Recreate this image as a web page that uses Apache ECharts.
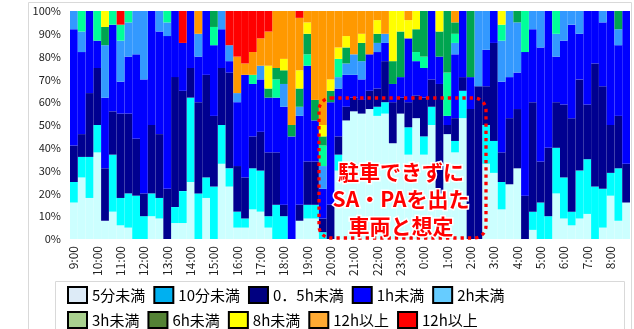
<!DOCTYPE html>
<html>
<head>
<meta charset="utf-8">
<script src="https://cdn.jsdelivr.net/npm/echarts@6/dist/echarts.min.js"></script>
<style>
  html, body { margin: 0; padding: 0; background: #fff; }
  #chart { width: 634px; height: 329px; }
</style>
</head>
<body>
<div id="chart"></div>
<script>
  // 時刻（20分刻み）
  const times = [
    '9:00','9:20','9:40','10:00','10:20','10:40','11:00','11:20','11:40','12:00','12:20','12:40',
    '13:00','13:20','13:40','14:00','14:20','14:40','15:00','15:20','15:40','16:00','16:20','16:40',
    '17:00','17:20','17:40','18:00','18:20','18:40','19:00','19:20','19:40','20:00','20:20','20:40',
    '21:00','21:20','21:40','22:00','22:20','22:40','23:00','23:20','23:40','0:00','0:20','0:40',
    '1:00','1:20','1:40','2:00','2:20','2:40','3:00','3:20','3:40','4:00','4:20','4:40',
    '5:00','5:20','5:40','6:00','6:20','6:40','7:00','7:20','7:40','8:00','8:20','8:40'
  ];

  // 駐車時間別の構成比（%）
  const lt5min = [
    16,27,18,38,8,12,6,5,0,0, 10,9,0,7,7,25,0,18,0,33, 23,5,5,13,12,5,0,0,0,8,
    9,9,0,0,30,52,56,55,57,54, 55,42,55,37,53,37,50,20,46,38, 53,0,0,33,29,13,24,31,0,4,
    0,0,20,9,6,9,11,0,5,19, 8,16
  ];
  const lt10min = [
    9,9,18,12,0,25,12,15,19,10, 10,9,0,7,14,37,20,9,23,17, 8,7,4,18,18,5,15,10,0,0,
    6,6,3,0,7,0,0,0,0,4, 5,0,0,12,0,8,8,0,0,5, 12,0,0,17,14,12,0,0,0,8,
    16,10,20,18,6,21,24,23,17,10, 23,0
  ];
  const lt30min = [
    16,10,28,25,23,19,37,35,25,10, 30,28,22,57,44,13,40,45,31,25, 42,20,18,14,17,28,23,5,0,7,
    19,19,6,15,8,6,6,6,8,8, 18,18,7,11,10,17,12,48,4,10, 6,57,67,17,43,13,29,26,19,48,
    18,30,20,32,41,40,24,54,45,21, 23,17
  ];
  const lt1h = [
    51,36,36,12,31,38,14,25,37,50, 50,45,67,29,21,25,20,28,31,17, 5,28,45,23,23,24,24,43,45,39,
    42,18,13,45,21,14,10,9,16,16, 8,8,9,28,15,13,30,12,4,28, 29,14,0,16,14,31,18,16,63,32,
    50,60,20,28,41,20,41,23,28,50, 31,67
  ];
  const lt2h = [
    8,9,0,0,23,0,18,15,19,30, 0,9,6,0,0,0,10,0,0,8, 7,4,0,0,6,0,0,10,0,4,
    0,0,10,0,5,5,9,8,0,4, 4,0,0,0,0,0,0,0,0,5, 0,0,33,17,0,18,29,22,0,8,
    16,0,10,13,6,10,0,0,5,0, 7,0
  ];
  const lt3h = [
    0,9,0,13,0,6,7,5,0,0, 0,0,5,0,0,0,0,0,8,0, 0,0,0,4,0,0,8,0,0,0,
    5,0,9,0,8,0,0,0,0,0, 0,0,0,0,4,5,0,0,19,4, 0,0,0,0,0,7,0,0,18,0,
    0,0,10,0,0,0,0,0,0,0, 0,0
  ];
  const lt6h = [
    0,0,0,0,8,0,0,0,0,0, 0,0,0,0,0,0,0,0,7,0, 0,0,0,0,0,4,5,6,5,8,
    9,9,4,5,0,7,0,8,0,4, 0,10,20,0,10,20,0,11,27,5, 0,29,0,0,0,0,0,5,0,0,
    0,0,0,0,0,0,0,0,0,0, 8,0
  ];
  const lt8h = [
    0,0,0,0,7,0,0,0,0,0, 0,0,0,0,0,0,0,0,0,0, 0,0,0,0,0,10,0,5,0,8,
    5,0,5,5,5,5,0,4,0,6, 0,22,9,8,8,0,0,9,0,0, 0,0,0,0,0,6,0,0,0,0,
    0,0,0,0,0,0,0,0,0,0, 0,0
  ];
  const ge12hA = [
    0,0,0,0,0,0,0,0,0,0, 0,0,0,0,0,0,10,0,0,0, 0,16,5,10,12,15,25,21,50,23,
    5,39,50,30,16,11,19,10,19,4, 10,0,0,4,0,0,0,0,0,5, 0,0,0,0,0,0,0,0,0,0,
    0,0,0,0,0,0,0,0,0,0, 0,0
  ];
  const ge12hB = [
    0,0,0,0,0,0,6,0,0,0, 0,0,0,0,14,0,0,0,0,0, 15,20,23,18,12,9,0,0,0,3,
    0,0,0,0,0,0,0,0,0,0, 0,0,0,0,0,0,0,0,0,0, 0,0,0,0,0,0,0,0,0,0,
    0,0,0,0,0,0,0,0,0,0, 0,0
  ];

  const seriesNames = ['5分未満', '10分未満', '0．5h未満', '1h未満', '2h未満',
    '3h未満', '6h未満', '8h未満', '12h以上', '12h以上 '];
  const seriesData = [lt5min, lt10min, lt30min, lt1h, lt2h, lt3h, lt6h, lt8h, ge12hA, ge12hB];
  // 棒の色
  const barColors = ['#ccffff', '#00ffff', '#000090', '#0000ff', '#3399ff',
    '#00ff99', '#00a550', '#ffff00', '#ff9900', '#ff0000'];
  // 凡例の色（グラフと違う）
  const legendColors = ['#ddebf7', '#00b0f0', '#000080', '#0000ff', '#66ccff',
    '#a9d08e', '#548235', '#ffff00', '#ffaa33', '#ff0000'];

  const fontJP = '"Noto Sans CJK JP", sans-serif';

  const chart = echarts.init(document.getElementById('chart'));

  const legendItems = (from, to) => seriesNames.slice(from, to).map((name, k) => ({
    name: name,
    icon: 'rect',
    itemStyle: {
      color: legendColors[from + k],
      borderColor: '#000',
      borderWidth: 2
    }
  }));

  const legendBase = {
    left: 62,
    itemWidth: 19,
    itemHeight: 16,
    itemGap: 8,
    selectedMode: false,
    textStyle: {
      fontFamily: fontJP,
      fontSize: 15,
      color: '#000',
      width: 80
    }
  };

  const option = {
    animation: false,
    grid: {
      left: 70,
      right: 4,
      top: 11,
      bottom: 90
    },
    legend: [
      Object.assign({}, legendBase, { top: 281, data: legendItems(0, 5) }),
      Object.assign({}, legendBase, { top: 306, data: legendItems(5, 10) })
    ],
    xAxis: {
      type: 'category',
      data: times,
      axisLine: { show: false },
      axisTick: { show: false },
      axisLabel: {
        interval: 2,
        rotate: 90,
        margin: 7,
        fontFamily: fontJP,
        fontSize: 12,
        color: '#222'
      }
    },
    yAxis: {
      type: 'value',
      min: 0,
      max: 100,
      interval: 10,
      splitLine: { show: false },
      axisLabel: {
        formatter: '{value}%',
        margin: 9,
        fontFamily: fontJP,
        fontSize: 11,
        color: '#222'
      }
    },
    series: seriesNames.map((name, k) => ({
      name: name,
      type: 'bar',
      stack: 'total',
      barCategoryGap: '0%',
      data: seriesData[k],
      itemStyle: { color: barColors[k] }
    })),
    graphic: [
      {
        type: 'rect',
        silent: true,
        shape: { x: 28.5, y: 2.5, width: 603, height: 340 },
        style: { fill: 'none', stroke: '#d9d9d9', lineWidth: 1 }
      },
      {
        type: 'rect',
        silent: true,
        shape: { x: 55.5, y: 281.5, width: 569, height: 60 },
        style: { fill: 'none', stroke: '#d9d9d9', lineWidth: 1 }
      },
      {
        type: 'rect',
        silent: true,
        z: 100,
        shape: { x: 319, y: 98, width: 167, height: 140, r: 12 },
        style: { fill: 'none', stroke: '#ff0000', lineWidth: 3.3, lineDash: [3.3, 4] }
      },
      {
        type: 'text',
        silent: true,
        z: 101,
        x: 401,
        y: 199,
        style: {
          text: '駐車できずに\nSA・PAを出た\n車両と想定',
          font: 'bold 21px "Noto Sans CJK JP"',
          fill: '#ff0000',
          stroke: '#ffffff',
          lineWidth: 3,
          lineHeight: 27,
          textAlign: 'center',
          textVerticalAlign: 'middle',
          align: 'center',
          verticalAlign: 'middle'
        }
      }
    ]
  };

  chart.setOption(option);
</script>
</body>
</html>
